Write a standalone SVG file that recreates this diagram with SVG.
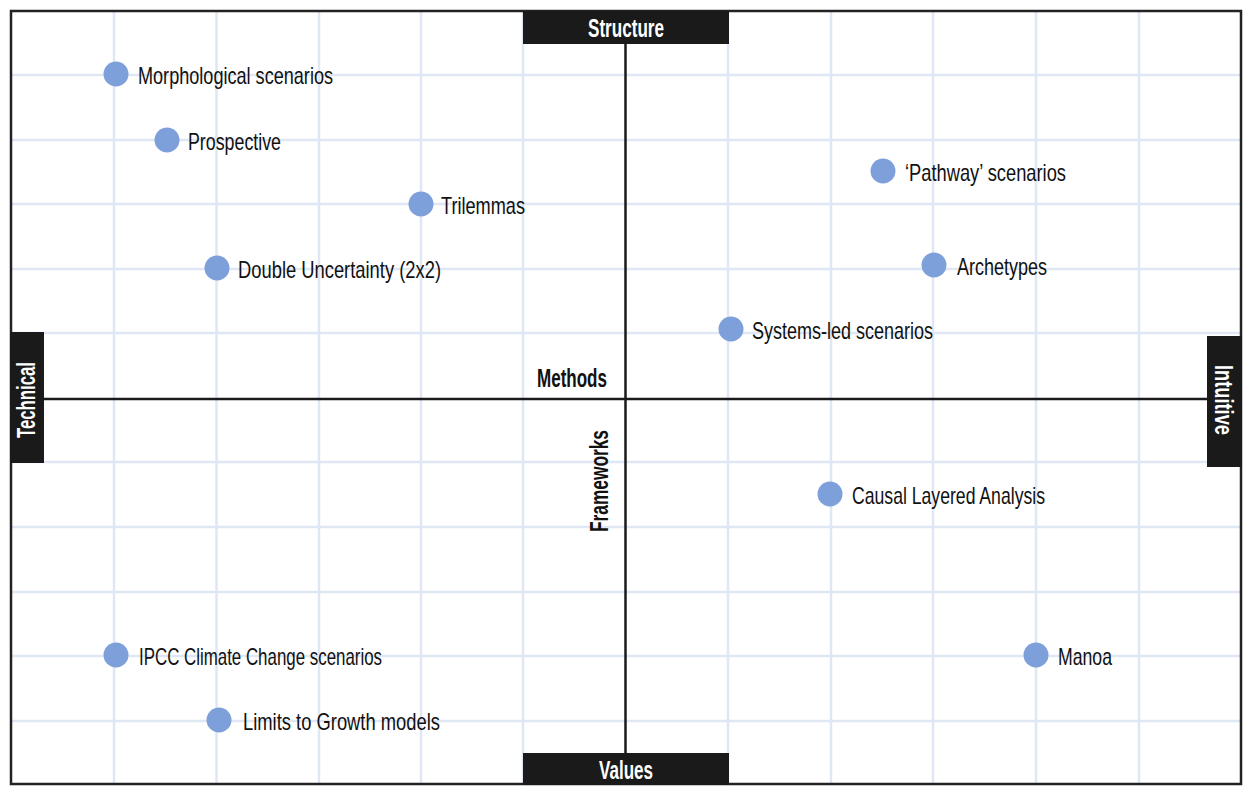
<svg xmlns="http://www.w3.org/2000/svg" width="1252" height="796" viewBox="0 0 1252 796">
<style>
.grid line{stroke:#dfe7f5;stroke-width:2.5}
.axis{stroke:#1a1a1a;stroke-width:2.5}
.dot{fill:#7d9fda}
.lbl{font-family:"Liberation Sans",Arial,sans-serif;font-size:24px;fill:#111}
.hdr{font-family:"Liberation Sans",Arial,sans-serif;font-size:26px;font-weight:bold}
.box{fill:#1a1a1a}
</style>
<rect x="0" y="0" width="1252" height="796" fill="#ffffff"/>
<g class="grid">
<line x1="114" y1="11" x2="114" y2="784"/>
<line x1="216.5" y1="11" x2="216.5" y2="784"/>
<line x1="319" y1="11" x2="319" y2="784"/>
<line x1="421" y1="11" x2="421" y2="784"/>
<line x1="523" y1="11" x2="523" y2="784"/>
<line x1="728" y1="11" x2="728" y2="784"/>
<line x1="831" y1="11" x2="831" y2="784"/>
<line x1="933" y1="11" x2="933" y2="784"/>
<line x1="1036" y1="11" x2="1036" y2="784"/>
<line x1="1139" y1="11" x2="1139" y2="784"/>
<line x1="11" y1="75" x2="1241" y2="75"/>
<line x1="11" y1="140" x2="1241" y2="140"/>
<line x1="11" y1="204" x2="1241" y2="204"/>
<line x1="11" y1="269" x2="1241" y2="269"/>
<line x1="11" y1="333" x2="1241" y2="333"/>
<line x1="11" y1="462" x2="1241" y2="462"/>
<line x1="11" y1="527" x2="1241" y2="527"/>
<line x1="11" y1="592" x2="1241" y2="592"/>
<line x1="11" y1="656" x2="1241" y2="656"/>
<line x1="11" y1="721" x2="1241" y2="721"/>
</g>
<g id="connectors">
<line class="axis" x1="625.5" y1="44" x2="625.5" y2="753"/>
<line class="axis" x1="44" y1="399" x2="1207" y2="399"/>
</g>
<rect x="11" y="11" width="1230" height="773" fill="none" stroke="#222" stroke-width="2.5"/>
<g id="structure">
<rect class="box" x="523" y="11" width="206" height="33"/>
<text class="hdr" x="626" y="37" text-anchor="middle" fill="#fff" textLength="76" lengthAdjust="spacingAndGlyphs">Structure</text>
</g>
<g id="values">
<rect class="box" x="523" y="753" width="206" height="32"/>
<text class="hdr" x="626" y="779" text-anchor="middle" fill="#fff" textLength="54" lengthAdjust="spacingAndGlyphs">Values</text>
</g>
<g id="technical">
<rect class="box" x="10" y="332" width="34" height="131"/>
<text class="hdr" transform="translate(35,400) rotate(-90)" x="0" y="0" text-anchor="middle" fill="#fff" textLength="76" lengthAdjust="spacingAndGlyphs">Technical</text>
</g>
<g id="intuitive">
<rect class="box" x="1207" y="336" width="35" height="131"/>
<text class="hdr" transform="translate(1215,400) rotate(90)" x="0" y="0" text-anchor="middle" fill="#fff" textLength="70" lengthAdjust="spacingAndGlyphs">Intuitive</text>
</g>
<g id="methods">
<text class="hdr" x="572" y="387" text-anchor="middle" fill="#111" textLength="70" lengthAdjust="spacingAndGlyphs">Methods</text>
</g>
<g id="frameworks">
<text class="hdr" transform="translate(608,481) rotate(-90)" x="0" y="0" text-anchor="middle" fill="#111" textLength="102" lengthAdjust="spacingAndGlyphs">Frameworks</text>
</g>
<g id="morphological">
<circle class="dot" cx="116" cy="74" r="12.5"/>
<text class="lbl" x="138" y="84" textLength="195" lengthAdjust="spacingAndGlyphs">Morphological scenarios</text>
</g>
<g id="prospective">
<circle class="dot" cx="167" cy="140" r="12.5"/>
<text class="lbl" x="188" y="150" textLength="93" lengthAdjust="spacingAndGlyphs">Prospective</text>
</g>
<g id="trilemmas">
<circle class="dot" cx="421" cy="204" r="12.5"/>
<text class="lbl" x="441" y="214" textLength="84" lengthAdjust="spacingAndGlyphs">Trilemmas</text>
</g>
<g id="double">
<circle class="dot" cx="217" cy="268" r="12.5"/>
<text class="lbl" x="238" y="278" textLength="203" lengthAdjust="spacingAndGlyphs">Double Uncertainty (2x2)</text>
</g>
<g id="pathway">
<circle class="dot" cx="883" cy="171" r="12.5"/>
<text class="lbl" x="905" y="181" textLength="161" lengthAdjust="spacingAndGlyphs">‘Pathway’ scenarios</text>
</g>
<g id="archetypes">
<circle class="dot" cx="934" cy="265" r="12.5"/>
<text class="lbl" x="957" y="275" textLength="90" lengthAdjust="spacingAndGlyphs">Archetypes</text>
</g>
<g id="systems">
<circle class="dot" cx="731" cy="329" r="12.5"/>
<text class="lbl" x="752" y="339" textLength="181" lengthAdjust="spacingAndGlyphs">Systems-led scenarios</text>
</g>
<g id="cla">
<circle class="dot" cx="830" cy="494" r="12.5"/>
<text class="lbl" x="852" y="504" textLength="193" lengthAdjust="spacingAndGlyphs">Causal Layered Analysis</text>
</g>
<g id="manoa">
<circle class="dot" cx="1036" cy="655" r="12.5"/>
<text class="lbl" x="1058" y="665" textLength="54" lengthAdjust="spacingAndGlyphs">Manoa</text>
</g>
<g id="ipcc">
<circle class="dot" cx="116" cy="655" r="12.5"/>
<text class="lbl" x="139" y="665" textLength="243" lengthAdjust="spacingAndGlyphs">IPCC Climate Change scenarios</text>
</g>
<g id="limits">
<circle class="dot" cx="219" cy="720" r="12.5"/>
<text class="lbl" x="243" y="730" textLength="197" lengthAdjust="spacingAndGlyphs">Limits to Growth models</text>
</g>
</svg>
